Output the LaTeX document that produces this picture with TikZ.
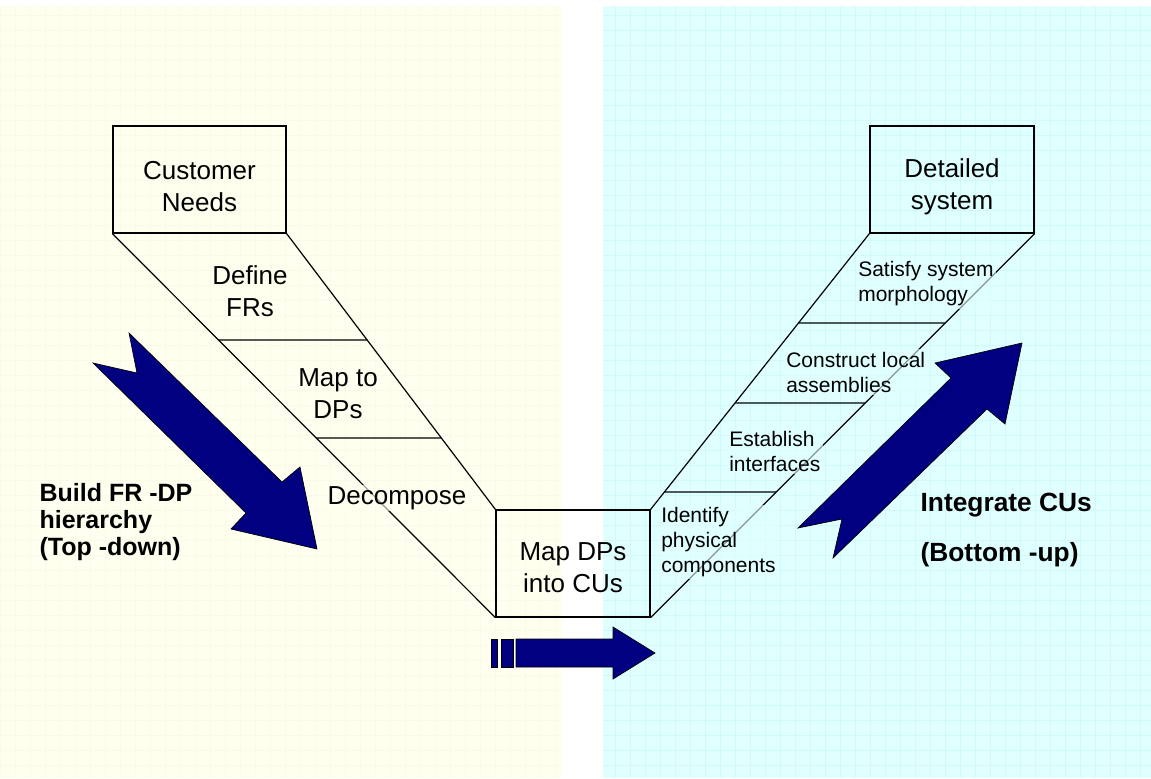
\documentclass[tikz,border=0pt]{standalone}
\usepackage{fontspec}
\setmainfont{Liberation Sans}
\definecolor{yellowbg}{RGB}{255,255,240}
\definecolor{yellowgrid}{RGB}{250,250,230}
\definecolor{cyanbg}{RGB}{224,255,255}
\definecolor{cyangrid}{RGB}{208,249,250}
\definecolor{arrowblue}{RGB}{0,0,128}

\begin{document}
\begin{tikzpicture}[x=0.75pt,y=-0.75pt,line width=0.9pt,
    every node/.style={font=\fontsize{19.5}{24}\selectfont}]
  \tikzstyle{stageBox}=[rectangle,draw=black,line width=0.9pt,minimum height=80.25pt,align=center]
  \tikzstyle{stepText}=[align=center,inner sep=1pt]
  \tikzstyle{smallStep}=[anchor=west,align=left,inner sep=2pt,font=\fontsize{15.75}{18.75}\selectfont,
                         fill=cyanbg,fill opacity=0.6,text opacity=1]
  \tikzstyle{boldNote}=[anchor=west,align=left,inner sep=0pt,font=\bfseries\fontsize{18.75}{20.6}\selectfont]
  \tikzstyle{bigArrow}=[draw=black,line width=0.5pt,fill=arrowblue]

  \useasboundingbox (0,0) rectangle (1151,778);

  % Background panels
  \fill[yellowbg] (0,6) rectangle (562,778);
  \fill[cyanbg] (603,6) rectangle (1151,778);
  \draw[yellowgrid,line width=0.4pt,step=11.25pt] (0,778) grid (562,6);
  \draw[cyangrid,line width=0.4pt,step=11.25pt] (603,778) grid (1151,6);

  % Stage boxes
  \node[stageBox,minimum width=129.75pt] (cn)  at (199.5,179.5) {\rule{0pt}{24.5pt}Customer\\Needs};
  \node[stageBox,minimum width=115.5pt]  (map) at (573,563.5)   {\rule{0pt}{19pt}Map DPs\\into CUs};
  \node[stageBox,minimum width=123pt]    (det) at (952,179.5)   {\rule{0pt}{24.5pt}Detailed\\system};

  % V-shaped bands
  \draw (cn.south west) -- (map.south west);
  \draw (cn.south east) -- (map.north west);
  \draw (map.north east) -- (det.south west);
  \draw (map.south east) -- (det.south east);

  \draw (intersection of cn.south west--map.south west and 0,340--1000,340)
     -- (intersection of cn.south east--map.north west and 0,340--1000,340);
  \draw (intersection of cn.south west--map.south west and 0,438--1000,438)
     -- (intersection of cn.south east--map.north west and 0,438--1000,438);
  \draw (intersection of map.north east--det.south west and 0,323--1100,323)
     -- (intersection of map.south east--det.south east and 0,323--1100,323);
  \draw (intersection of map.north east--det.south west and 0,403--1100,403)
     -- (intersection of map.south east--det.south east and 0,403--1100,403);
  \draw (intersection of map.north east--det.south west and 0,492--1100,492)
     -- (intersection of map.south east--det.south east and 0,492--1100,492);

  % Steps
  \node[stepText] (defFR)  at (250,291) {Define\\FRs};
  \node[stepText] (mapDP)  at (338,394) {Map to\\DPs};
  \node[stepText,fill=yellowbg,fill opacity=0.6,text opacity=1] (decomp) at (397,498) {Decompose};
  \node[smallStep] (satisfy)   at (855,284) {Satisfy system\\morphology};
  \node[smallStep] (construct) at (783,372) {Construct local\\assemblies};
  \node[smallStep] (establish) at (726,451) {Establish\\interfaces};
  \node[smallStep] (identify)  at (658,542) {Identify\\physical\\components};

  % Direction arrows
  \draw[bigArrow] (129,333) -- (137,373) -- (93,363) -- (246,513) -- (231,529)
     -- (317,549) -- (300,467) -- (282,482) -- cycle;
  \draw[bigArrow] (798,528) -- (842,519) -- (833,558) -- (987,409) -- (1005,424)
     -- (1022,343) -- (935,363) -- (951,378) -- cycle;
  \draw[bigArrow] (491,639) rectangle (497,667);
  \draw[bigArrow] (501,639) rectangle (513,667);
  \draw[bigArrow] (516,639) -- (613,639) -- (613,627) -- (655,653) -- (613,679)
     -- (613,667) -- (516,667) -- cycle;

  \node[boldNote] (buildFR) at (39,522) {Build FR -DP\\hierarchy\\(Top -down)};
  \node[boldNote,font=\bfseries\fontsize{19.75}{37.5}\selectfont] (integr) at (920,530)
     {Integrate CUs\\(Bottom -up)};
\end{tikzpicture}
\end{document}
